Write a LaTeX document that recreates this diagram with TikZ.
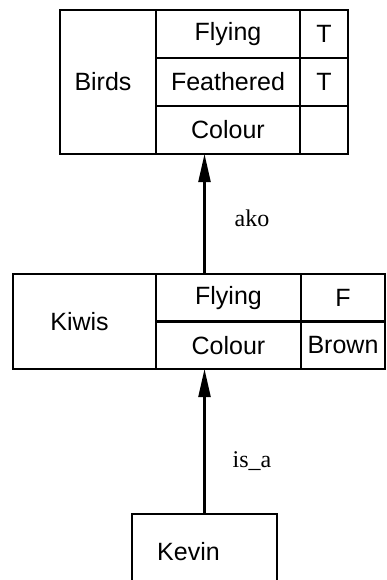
\documentclass[tikz,border=0pt]{standalone}
\usepackage{fontspec}
\setmainfont{Liberation Sans}
\newfontfamily\lblfont{Liberation Serif}
\usetikzlibrary{arrows.meta}
\begin{document}
\begin{tikzpicture}[x=1pt,y=-1pt,
  cell/.style={draw, line width=2.2pt, inner sep=0pt, outer sep=0pt,
    font=\fontsize{25}{29}\selectfont},
  lbl/.style={inner sep=0pt, font=\lblfont\fontsize{24}{28}\selectfont},
  arr/.style={line width=2.2pt, -{Triangle[length=28pt,width=12pt]}}]
\clip (0,0) rectangle (387,580);
\fill[white] (0,0) rectangle (387,580);
% Birds frame
\node[cell, minimum width=96, minimum height=144] (birds) at (108,82) {\hspace*{-10pt}Birds};
\node[cell, minimum width=144, minimum height=48] (b1k) at (228,34) {Flying};
\node[cell, minimum width=48, minimum height=48] (b1v) at (324,34) {T};
\node[cell, minimum width=144, minimum height=48] (b2k) at (228,82) {Feathered};
\node[cell, minimum width=48, minimum height=48] (b2v) at (324,82) {T};
\node[cell, minimum width=144, minimum height=48] (b3k) at (228,130) {Colour};
\node[cell, minimum width=48, minimum height=48] (b3v) at (324,130) {};
% Kiwis frame
\node[cell, minimum width=143, minimum height=95] (kiwis) at (84.5,321.5) {\hspace*{-10pt}Kiwis};
\node[cell, minimum width=145, minimum height=47.5] (k1k) at (228.5,297.75) {Flying};
\node[cell, minimum width=84, minimum height=47.5] (k1v) at (343,297.75) {F};
\node[cell, minimum width=145, minimum height=47.5] (k2k) at (228.5,345.25) {Colour};
\node[cell, minimum width=84, minimum height=47.5] (k2v) at (343,345.25) {Brown};
% Kevin
\node[cell, minimum width=145, minimum height=76] (kevin) at (204.5,552) {\hspace*{-32pt}Kevin};
% links
\draw[arr] (kevin.north) -- (kevin.north |- k2k.south);
\draw[arr] (kevin.north |- k1k.north) -- (kevin.north |- b3k.south);
\node[lbl] (ako) at (252,218) {ako};
\node[lbl] (isa) at (252,461) {is\_a};
\end{tikzpicture}
\end{document}
